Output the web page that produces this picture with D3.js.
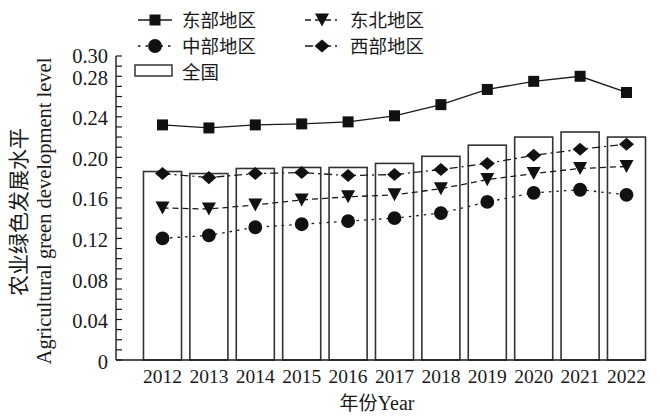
<!DOCTYPE html>
<html>
<head>
<meta charset="utf-8">
<script src="https://cdn.jsdelivr.net/npm/d3@7"></script>
<style>
  html, body { margin: 0; padding: 0; background: #fff; }
  svg { display: block; }
  .lat { font-family: "Liberation Serif", "DejaVu Serif", serif; }
  .cjk { font-family: "Noto Sans CJK SC", sans-serif; }
</style>
</head>
<body>
<svg id="chart" width="660" height="417"></svg>
<script>
// Agricultural green development level by region, 2012–2022
const years = ["2012","2013","2014","2015","2016","2017","2018","2019","2020","2021","2022"];
const national  = [0.186,0.184,0.189,0.190,0.190,0.194,0.201,0.212,0.220,0.225,0.220];
const east      = [0.232,0.229,0.232,0.233,0.235,0.241,0.252,0.267,0.275,0.280,0.264];
const central   = [0.120,0.123,0.131,0.134,0.137,0.140,0.145,0.156,0.165,0.168,0.163];
const northeast = [0.150,0.149,0.153,0.158,0.161,0.163,0.169,0.178,0.184,0.189,0.191];
const west      = [0.184,0.180,0.184,0.185,0.182,0.183,0.188,0.194,0.202,0.208,0.213];
const yTickLabels = ["0","0.04","0.08","0.12","0.16","0.20","0.24","0.28","0.30"];

const svg = d3.select("#chart");
const ink = "#1a1a1a";

const x = d3.scaleBand().domain(years).range([139.3, 649.7])
  .paddingInner(0.18).paddingOuter(0.09);
const y = d3.scaleLinear().domain([0, 0.30]).range([360, 56]);
const cx = d => x(d) + x.bandwidth() / 2;

// bars: national average
svg.append("g").selectAll("rect").data(years).join("rect")
  .attr("x", d => x(d)).attr("width", x.bandwidth())
  .attr("y", (d, i) => y(national[i]))
  .attr("height", (d, i) => y(0) - y(national[i]))
  .attr("fill", "#fff").attr("stroke", "#333").attr("stroke-width", 1.6);

// y axis: minor ticks every 0.01, labels at selected values
const yAxisG = svg.append("g").attr("transform", "translate(116,0)");
yAxisG.append("line").attr("x1", 0).attr("x2", 0).attr("y1", y(0.30)).attr("y2", y(0))
  .attr("stroke", ink).attr("stroke-width", 1.4);
yAxisG.selectAll("line.tk").data(d3.range(0, 31)).join("line").attr("class", "tk")
  .attr("x1", 0).attr("x2", 6)
  .attr("y1", d => y(d / 100)).attr("y2", d => y(d / 100))
  .attr("stroke", ink).attr("stroke-width", 1.2);
yAxisG.selectAll("text").data(yTickLabels).join("text").attr("class", "lat")
  .attr("x", -8).attr("y", d => y(+d)).attr("dy", d => d === "0.30" ? "0.32em" : "0.42em")
  .attr("text-anchor", "end").attr("font-size", 20.5).attr("fill", ink)
  .text(d => d);

// x baseline and year labels
svg.append("line").attr("x1", 116).attr("x2", x(years[years.length - 1]) + x.bandwidth())
  .attr("y1", y(0)).attr("y2", y(0)).attr("stroke", ink).attr("stroke-width", 1.4);
svg.append("g").selectAll("text").data(years).join("text").attr("class", "lat")
  .attr("x", d => cx(d)).attr("y", 383).attr("text-anchor", "middle")
  .attr("font-size", 19.5).attr("fill", ink).text(d => d);

// axis titles
const xt = svg.append("text").attr("x", 377).attr("y", 410).attr("text-anchor", "middle")
  .attr("font-size", 19).attr("fill", ink);
xt.append("tspan").attr("class", "cjk").text("年份");
xt.append("tspan").attr("class", "lat").attr("font-size", 20).text("Year");

svg.append("text").attr("class", "cjk")
  .attr("transform", "translate(26,212) rotate(-90)").attr("text-anchor", "middle")
  .attr("font-size", 21).attr("fill", ink).text("农业绿色发展水平");
svg.append("text").attr("class", "lat")
  .attr("transform", "translate(51,211) rotate(-90)").attr("text-anchor", "middle")
  .attr("font-size", 20.5).attr("fill", ink).text("Agricultural green development level");

// marker shapes
const downTriangle = {
  draw(ctx, size) {
    const w = Math.sqrt(size), h = w * 0.93;
    ctx.moveTo(-w / 2, -h / 2); ctx.lineTo(w / 2, -h / 2); ctx.lineTo(0, h / 2); ctx.closePath();
  }
};
const wideDiamond = {
  draw(ctx, size) {
    const w = Math.sqrt(size) / 2, h = w * 0.87;
    ctx.moveTo(-w, 0); ctx.lineTo(0, -h); ctx.lineTo(w, 0); ctx.lineTo(0, h); ctx.closePath();
  }
};

const series = [
  { name: "东部地区", values: east,      dash: null,         symbol: d3.symbolSquare, size: 121 },
  { name: "中部地区", values: central,   dash: "2.5,5",      symbol: d3.symbolCircle, size: 150 },
  { name: "东北地区", values: northeast, dash: "6,4",        symbol: downTriangle,    size: 196 },
  { name: "西部地区", values: west,      dash: "8,4,2,4",    symbol: wideDiamond,     size: 225 }
];

const line = d3.line().x(d => cx(d.year)).y(d => y(d.v));

function marker(g, s) {
  g.append("path").attr("d", d3.symbol().type(s.symbol).size(s.size)).attr("fill", "#111");
}

series.forEach(s => {
  const pts = years.map((yr, i) => ({ year: yr, v: s.values[i] }));
  svg.append("path").datum(pts).attr("d", line)
    .attr("fill", "none").attr("stroke", ink).attr("stroke-width", 1.3)
    .attr("stroke-dasharray", s.dash);
  svg.append("g").selectAll("g").data(pts).join("g")
    .attr("transform", d => `translate(${cx(d.year)},${y(d.v)})`)
    .each(function () { marker(d3.select(this), s); });
});

// legend
const legendPos = [
  { x: 138, y: 20 }, { x: 138, y: 46 }, { x: 305, y: 20 }, { x: 305, y: 46 }
];
series.forEach((s, i) => {
  const p = legendPos[i];
  const g = svg.append("g").attr("transform", `translate(${p.x},${p.y})`);
  const w = i < 2 ? 34 : 32;
  g.append("line").attr("x1", 0).attr("x2", w).attr("y1", 0).attr("y2", 0)
    .attr("stroke", ink).attr("stroke-width", 1.3).attr("stroke-dasharray", s.dash);
  const m = g.append("g").attr("transform", `translate(${w / 2 + (i < 2 ? 0 : 1)},0)`);
  marker(m, s);
  g.append("text").attr("class", "cjk").attr("x", i < 2 ? 44 : 45).attr("y", 0).attr("dy", "0.36em")
    .attr("font-size", 18.5).attr("fill", ink).text(s.name);
});
const lg = svg.append("g").attr("transform", "translate(135,65)");
lg.append("rect").attr("x", 0).attr("y", 0).attr("width", 37).attr("height", 11)
  .attr("fill", "#fff").attr("stroke", "#333").attr("stroke-width", 1.5);
lg.append("text").attr("class", "cjk").attr("x", 47).attr("y", 7).attr("dy", "0.36em")
  .attr("font-size", 18.5).attr("fill", ink).text("全国");
</script>
</body>
</html>
